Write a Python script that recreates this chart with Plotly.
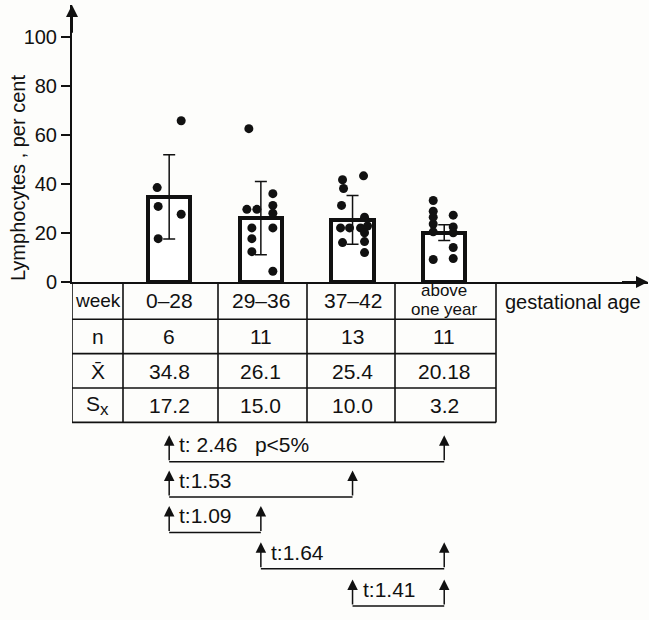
import plotly.graph_objects as go

# ---------------- data ----------------
groups = ["0–28", "29–36", "37–42", "above one year"]
n_counts = [6, 11, 13, 11]
means = [34.8, 26.1, 25.4, 20.18]
sds = [17.2, 15.0, 10.0, 3.2]

g1_values = [65.9, 38.6, 30.9, 27.7, 17.7]
g2_values = [62.7, 29.7, 29.7, 36.1, 31.3, 28.1, 22.1, 22.1, 17.7, 12.4, 4.4]
g3_values = [41.8, 38.2, 43.4, 31.3, 26.5, 22.1, 22.9, 20.1, 22.1, 22.1, 16.1, 16.5, 12.0]
g4_values = [33.3, 28.9, 26.5, 23.7, 20.5, 9.2, 27.3, 22.5, 20.1, 14.1, 9.6]

t_pairs = [(0, 3), (0, 2), (0, 1), (1, 3), (2, 3)]
t_labels = ["t: 2.46   p<5%", "t:1.53", "t:1.09", "t:1.64", "t:1.41"]

y_ticks = [0, 20, 40, 60, 80, 100]

# ---------------- layout constants ----------------
W, H = 649, 620
ML, MR, MT = 72, 1, 5
PX = 91.68            # pixels per group unit
X0 = -1.06
X1 = X0 + (W - ML - MR) / PX
Y_ZERO_PX = 287
PX_PER_Y = 2.49
Y_TOP = (Y_ZERO_PX - MT) / PX_PER_Y
SPLIT = (H - Y_ZERO_PX) / (H - MT)

# jitter of the dots (pixels, relative to bar centre)
jit1 = [12, -12, -11, 12, -11]
jit2 = [-12, -14, -4, 12, 12, 12, 12, -9, -9, -9, 12]
jit3 = [-10, -9, 11, -11, 12, 8, 15, 12, -12, -3, -10, 12, 12]
jit4 = [-11, -11, -11, -11, -11, -11, 9, 9, 9, 9, 9]


def xu(px):
    return X0 + (px - ML) / PX


FONT = "Liberation Sans"
BLACK = "#111111"
FS = 21

fig = go.Figure()

xs = list(range(len(groups)))
fig.add_trace(go.Bar(
    x=xs, y=means, width=0.46,
    marker=dict(color="white", line=dict(color=BLACK, width=4)),
    error_y=dict(type="data", array=sds, visible=True, thickness=1.5, width=6, color=BLACK),
    showlegend=False, hoverinfo="skip",
))

for gi, (vals, jit) in enumerate([(g1_values, jit1), (g2_values, jit2),
                                   (g3_values, jit3), (g4_values, jit4)]):
    fig.add_trace(go.Scatter(
        x=[gi + j / PX for j in jit], y=vals, mode="markers",
        marker=dict(color=BLACK, size=9),
        showlegend=False, hoverinfo="skip", cliponaxis=False,
    ))

shapes = []
annotations = []

# table
col_px = [72, 123, 218, 307, 395, 496]
row_px = [287, 325, 360, 395, 430]
for cx in col_px:
    shapes.append(dict(type="line", xref="x", yref="y2", x0=xu(cx), x1=xu(cx),
                       y0=row_px[0], y1=row_px[-1], line=dict(color=BLACK, width=1.6)))
for ry in row_px[1:]:
    shapes.append(dict(type="line", xref="x", yref="y2", x0=xu(col_px[0]), x1=xu(col_px[-1]),
                       y0=ry, y1=ry, line=dict(color=BLACK, width=1.6)))


def txt(x, y, s, size=FS, xanchor="center", xref="x", yref="y2", **kw):
    annotations.append(dict(x=x, y=y, xref=xref, yref=yref, text=s, showarrow=False,
                            xanchor=xanchor, yanchor="middle",
                            font=dict(family=FONT, size=size, color=BLACK), **kw))


label_x = (xu(col_px[0]) + xu(col_px[1])) / 2
row_y = [306, 343, 378, 413]
txt(label_x, row_y[0], "week", size=19)
txt(label_x, row_y[1], "n")
txt(label_x, row_y[2], "X\u0304")
txt(label_x, row_y[3], "S<sub><span style='font-size:17px'>x</span></sub>")

for gi, g in enumerate(groups):
    if gi == 3:
        txt(gi, 296, "above", size=17)
        txt(gi, 315, "one year", size=17)
    else:
        txt(gi, row_y[0], g)
    txt(gi, row_y[1], str(n_counts[gi]))
    txt(gi, row_y[2], str(means[gi]))
    txt(gi, row_y[3], str(sds[gi]))

txt(xu(503), 307, "gestational age", size=20, xanchor="left")

# t-test comparison brackets
line_y = [470, 506, 542, 579, 617]
for (a, b), lab, ly in zip(t_pairs, t_labels, line_y):
    shapes.append(dict(type="line", xref="x", yref="y2", x0=a, x1=b, y0=ly, y1=ly,
                       line=dict(color=BLACK, width=1.5)))
    for g in (a, b):
        annotations.append(dict(x=g, y=ly - 27, xref="x", yref="y2", ax=g, ay=ly,
                                axref="x", ayref="y2", text="", showarrow=True,
                                arrowhead=2, arrowsize=1.4, arrowwidth=1.5,
                                arrowcolor=BLACK))
    txt(a + 8 / PX, ly - 17, lab, xanchor="left")

# axis arrowheads
annotations.append(dict(x=X0, y=Y_TOP, xref="x", yref="y", ax=X0, ay=Y_TOP - 12,
                        axref="x", ayref="y", text="", showarrow=True, arrowhead=2,
                        arrowsize=1.2, arrowwidth=2, arrowcolor=BLACK))
annotations.append(dict(x=X1, y=0, xref="x", yref="y", ax=X1 - 0.3, ay=0,
                        axref="x", ayref="y", text="", showarrow=True, arrowhead=2,
                        arrowsize=1.2, arrowwidth=2, arrowcolor=BLACK))

# y-axis title
annotations.append(dict(x=(18 - ML) / (W - ML - MR), y=42.5, xref="paper", yref="y",
                        text="Lymphocytes , per cent", showarrow=False, textangle=-90,
                        xanchor="center", yanchor="middle",
                        font=dict(family=FONT, size=20, color=BLACK)))

fig.update_layout(
    width=W, height=H,
    margin=dict(l=ML, r=MR, t=MT, b=0),
    paper_bgcolor="#fdfdfb", plot_bgcolor="#fdfdfb",
    font=dict(family=FONT, size=20, color=BLACK),
    shapes=shapes, annotations=annotations,
    bargap=0,
    xaxis=dict(range=[X0, X1], showgrid=False, zeroline=False, showline=True,
               linecolor=BLACK, linewidth=2, showticklabels=False, ticks="",
               anchor="y", fixedrange=True),
    yaxis=dict(domain=[SPLIT, 1], range=[0, Y_TOP], tickvals=y_ticks,
               showgrid=False, zeroline=False, showline=True, linecolor=BLACK,
               linewidth=2, ticks="outside", ticklen=9, tickwidth=2, tickcolor=BLACK,
               tickfont=dict(family=FONT, size=20, color=BLACK), anchor="x"),
    yaxis2=dict(domain=[0, SPLIT], range=[H, Y_ZERO_PX], visible=False, anchor="x"),
)

fig.write_html("out.html")
